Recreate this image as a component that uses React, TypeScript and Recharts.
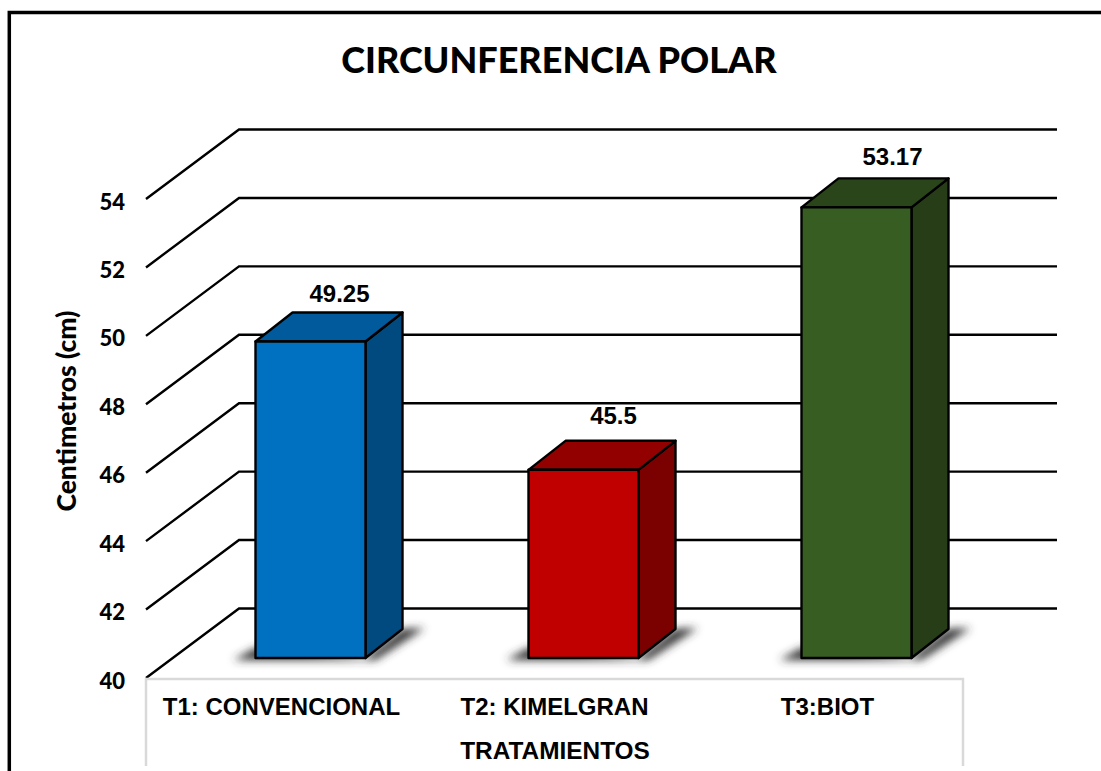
import React from 'react';
import { BarChart, Bar, XAxis, YAxis, CartesianGrid, LabelList, Customized } from 'recharts';

const categories = ['T1: CONVENCIONAL', 'T2: KIMELGRAN', 'T3:BIOT'];
const values = [49.25, 45.5, 53.17];
const yTicks = [40, 42, 44, 46, 48, 50, 52, 54];

const FRONT = ['#0070C0', '#C00000', '#385D22'];
const TOP = ['#005A9C', '#930000', '#2B451A'];
const SIDE = ['#004A7F', '#7B0000', '#263D17'];
const LABEL_NUDGE = [29, 30, 36];
const LABEL_LIFT = [48, 54, 50];

const data = categories.map((name, i) => ({ name, value: values[i] }));

const LATO = 'Lato, sans-serif';
const ARIAL = '"Liberation Sans", Arial, sans-serif';

// bars are drawn on a mid-depth plane, the walls sit further back
const DEPTH_X = 37;
const DEPTH_Y = 29;

const Bar3D = (props: any) => {
  const { x, y, width, height, index } = props;
  const r = x + width;
  const b = y + height;
  return (
    <g stroke="#000" strokeWidth={2.4} strokeLinejoin="round">
      <path
        d={`M${x - 22},${b + 2} L${x},${b - 10} L${r},${b} L${r + DEPTH_X},${b - DEPTH_Y} L${r + DEPTH_X + 22},${b - DEPTH_Y - 1} L${r + 10},${b + 2} Z`}
        fill="#333"
        stroke="none"
        filter="url(#barShadow)"
      />
      <path d={`M${r},${y} L${r + DEPTH_X},${y - DEPTH_Y} L${r + DEPTH_X},${b - DEPTH_Y} L${r},${b} Z`} fill={SIDE[index]} />
      <path d={`M${x},${y} L${x + DEPTH_X},${y - DEPTH_Y} L${r + DEPTH_X},${y - DEPTH_Y} L${r},${y} Z`} fill={TOP[index]} />
      <rect x={x} y={y} width={width} height={height} fill={FRONT[index]} />
    </g>
  );
};

const GridLine = (props: any) => {
  const { y1 } = props;
  return (
    <path
      key={props.key}
      d={`M146,${y1 + 20} L239,${y1 - 49.5} L1057,${y1 - 49.5}`}
      fill="none"
      stroke="#000"
      strokeWidth={2.4}
    />
  );
};

const YTick = ({ y, payload }: any) => (
  <text x={125} y={y + 22.5} dy={8} textAnchor="end" fontFamily={LATO} fontWeight={900} fontSize={22} fill="#000">
    {payload.value}
  </text>
);

const XTick = ({ x, y, payload }: any) => (
  <text x={x - 28.5} y={y + 41} dy={8} textAnchor="middle" fontFamily={ARIAL} fontWeight={700} fontSize={24} fill="#000">
    {payload.value}
  </text>
);

const ValueLabel = ({ x, y, width, value, index }: any) => (
  <text
    x={x + width / 2 + LABEL_NUDGE[index]}
    y={y - LABEL_LIFT[index]}
    dy={8}
    textAnchor="middle"
    fontFamily={ARIAL}
    fontWeight={700}
    fontSize={24}
    fill="#000"
  >
    {value}
  </text>
);

const Decor = () => (
  <g>
    <defs>
      <filter id="barShadow" x="-30%" y="-30%" width="160%" height="160%">
        <feGaussianBlur stdDeviation="4" />
      </filter>
    </defs>
    <path d="M146,766 L146,679 L963,679 L963,766" fill="none" stroke="#D9D9D9" strokeWidth={2.5} />
    <path d="M9.3,771 L9.3,12.5 L1101,12.5" fill="none" stroke="#000" strokeWidth={3.5} />
    <text x={559} y={73} textAnchor="middle" fontFamily={LATO} fontWeight={900} fontSize={36} fill="#000">
      CIRCUNFERENCIA POLAR
    </text>
    <text x={555} y={759} textAnchor="middle" fontFamily={ARIAL} fontWeight={700} fontSize={24.4} fill="#000">
      TRATAMIENTOS
    </text>
    <text
      transform="rotate(-90 67 411)"
      x={67}
      y={411}
      dy={9}
      textAnchor="middle"
      fontFamily={LATO}
      fontWeight={900}
      fontSize={26.4}
      fill="#000"
    >
      Centimetros (cm)
    </text>
  </g>
);

export default function App() {
  return (
    <div style={{ position: 'absolute', left: 0, top: 0 }}>
      <BarChart
        width={1101}
        height={771}
        data={data}
        barSize={110}
        margin={{ top: 179, right: 108.5, bottom: 13, left: 39.5 }}
      >
        <Customized component={Decor} />
        <CartesianGrid vertical={false} horizontal={GridLine as any} />
        <XAxis dataKey="name" height={100} axisLine={false} tickLine={false} tick={XTick as any} interval={0} />
        <YAxis
          width={134}
          domain={[40, 54]}
          ticks={yTicks}
          interval={0}
          axisLine={false}
          tickLine={false}
          tick={YTick as any}
        />
        <Bar dataKey="value" shape={Bar3D as any} isAnimationActive={false}>
          <LabelList dataKey="value" content={ValueLabel as any} />
        </Bar>
      </BarChart>
    </div>
  );
}
